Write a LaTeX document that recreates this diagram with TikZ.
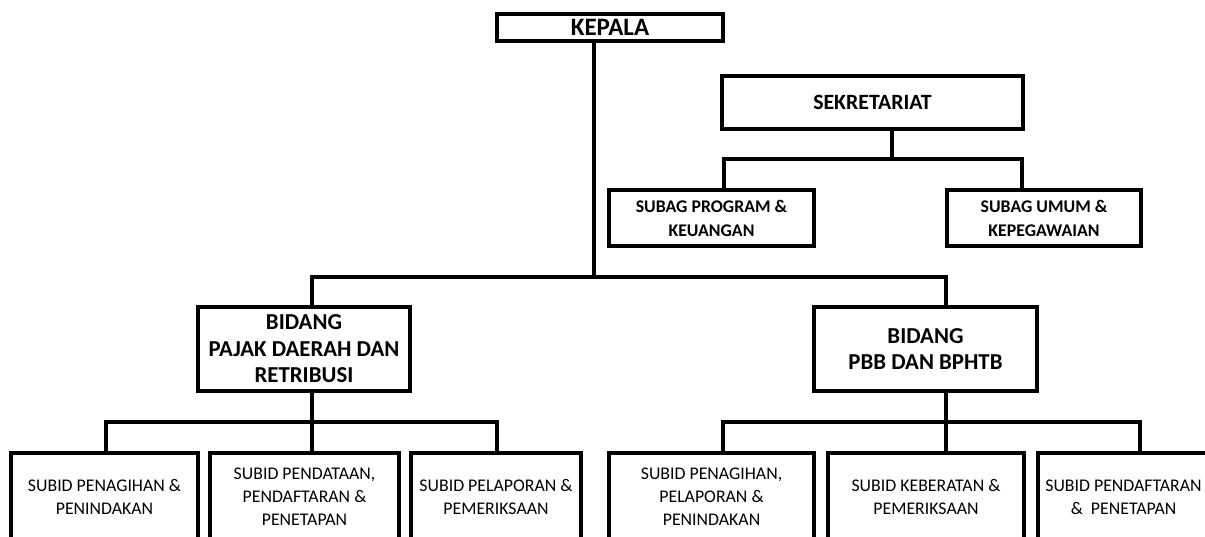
\documentclass[tikz,border=0pt]{standalone}
\usepackage{fontspec}
\setmainfont{Carlito}

\tikzset{
  box/.style={draw, rectangle, line width=2.3pt, inner sep=0pt, outer sep=0pt, align=center},
  head/.style={box, font=\bfseries\fontsize{8.9}{12}\selectfont, minimum height=28pt},
  bid/.style={box, font=\bfseries\fontsize{11.4}{13.3}\selectfont, minimum height=42pt},
  sub/.style={box, font=\fontsize{8.9}{11.5}\selectfont, minimum height=44pt},
  conn/.style={line width=2.3pt}
}

\begin{document}
\begin{tikzpicture}[x=0.5pt, y=-0.5pt]
 \useasboundingbox (0,0) rectangle (1205,536);
 \clip (0,0) rectangle (1205,536);
 \fill[white] (0,0) rectangle (1205,536);

 \node[box, minimum width=113pt, minimum height=13.5pt, font=\bfseries\fontsize{12.5}{14}\selectfont] (kepala) at (610,27.5) {KEPALA};
 \node[box, minimum width=150.5pt, minimum height=26.5pt, font=\bfseries\fontsize{10.9}{13}\selectfont] (sekre) at (872.5,102.5) {SEKRETARIAT};
 \node[head, minimum width=102.5pt] (subagA) at (711.5,218) {SUBAG PROGRAM \&\\KEUANGAN};
 \node[head, minimum width=97pt] (subagB) at (1044,218) {SUBAG UMUM \&\\KEPEGAWAIAN};

 \node[bid, minimum width=106pt] (bidA) at (304,349) {BIDANG\\PAJAK DAERAH DAN\\RETRIBUSI};
 \node[bid, minimum width=111.5pt] (bidB) at (925.5,349) {BIDANG\\PBB DAN BPHTB};

 \node[sub, minimum width=93.5pt] (subA1) at (104.5,497) {SUBID PENAGIHAN \&\\PENINDAKAN};
 \node[sub, minimum width=94.5pt] (subA2) at (304.5,497) {SUBID PENDATAAN,\\PENDAFTARAN \&\\PENETAPAN};
 \node[sub, minimum width=85pt] (subA3) at (496,497) {SUBID PELAPORAN \&\\PEMERIKSAAN};
 \node[sub, minimum width=102.5pt] (subB1) at (711.5,497) {SUBID PENAGIHAN,\\PELAPORAN \&\\PENINDAKAN};
 \node[sub, minimum width=98pt] (subB2) at (926,497) {SUBID KEBERATAN \&\\PEMERIKSAAN};
 \node[sub, minimum width=85.5pt] (subB3) at (1123.5,497) {SUBID PENDAFTARAN\\\&\ \ PENETAPAN};

 % junctions of the bars
 \coordinate (jK) at (594,277);
 \coordinate (jS) at (892,159);
 \coordinate (jA) at (312,422);
 \coordinate (jB) at (946,422);
 \coordinate (a1) at (106,422);
 \coordinate (a3) at (497,422);
 \coordinate (b1) at (723,422);
 \coordinate (b3) at (1140,422);
 \coordinate (s1) at (724,159);
 \coordinate (s2) at (1022,159);

 \draw[conn] (kepala.south -| jK) -- (jK);
 \draw[conn] (bidA.north -| jA) |- (jK) -| (bidB.north -| jB);

 \draw[conn] (sekre.south -| jS) -- (jS);
 \draw[conn] (subagA.north -| s1) -- (s1) -- (s2) -- (subagB.north -| s2);

 \draw[conn] (bidA.south -| jA) -- (subA2.north -| jA);
 \draw[conn] (subA1.north -| a1) -- (a1) -- (a3) -- (subA3.north -| a3);

 \draw[conn] (bidB.south -| jB) -- (subB2.north -| jB);
 \draw[conn] (subB1.north -| b1) -- (b1) -- (b3) -- (subB3.north -| b3);
\end{tikzpicture}
\end{document}
